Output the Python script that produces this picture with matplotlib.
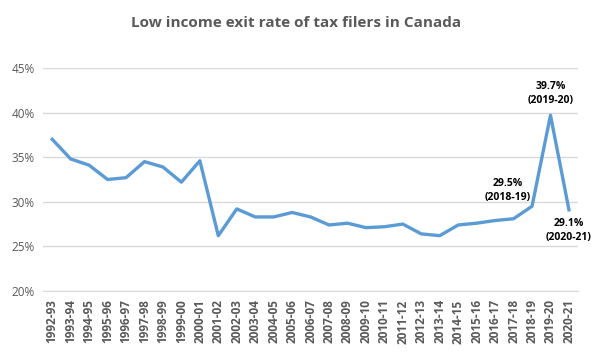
import matplotlib
matplotlib.use("Agg")
import matplotlib.pyplot as plt
from matplotlib.ticker import FuncFormatter

years = ["1992-93","1993-94","1994-95","1995-96","1996-97","1997-98","1998-99","1999-00",
         "2000-01","2001-02","2002-03","2003-04","2004-05","2005-06","2006-07","2007-08",
         "2008-09","2009-10","2010-11","2011-12","2012-13","2013-14","2014-15","2015-16",
         "2016-17","2017-18","2018-19","2019-20","2020-21"]
rates = [37.0, 34.8, 34.1, 32.5, 32.7, 34.5, 33.9, 32.2,
         34.6, 26.2, 29.2, 28.3, 28.3, 28.8, 28.3, 27.4,
         27.6, 27.1, 27.2, 27.5, 26.4, 26.2, 27.4, 27.6,
         27.9, 28.1, 29.5, 39.7, 29.1]
yticks = [20, 25, 30, 35, 40, 45]
labels = {26: ("29.5%\n(2018-19)", (-24, 16)),
          27: ("39.7%\n(2019-20)", (0, 22)),
          28: ("29.1%\n(2020-21)", (0, -21))}

plt.rcParams['font.family'] = ['Open Sans', 'DejaVu Sans']
fig = plt.figure(figsize=(5.93, 3.54), dpi=100)
ax = fig.add_axes([0.0725, 0.178, 0.9025, 0.630])
x = list(range(len(years)))
ax.plot(x, rates, color="#5B9BD5", linewidth=2.4, solid_joinstyle='round', zorder=3)
ax.set_xlim(-0.5, len(years) - 0.5)
ax.set_ylim(20, 45)
ax.set_yticks(yticks)
ax.yaxis.set_major_formatter(FuncFormatter(lambda v, p: f"{v:.0f}%"))
ax.grid(axis='y', color="#D9D9D9", linewidth=1)
ax.set_axisbelow(True)
for s in ax.spines.values():
    s.set_visible(False)
ax.spines['bottom'].set_visible(True)
ax.spines['bottom'].set_color("#D9D9D9")
ax.tick_params(axis='both', length=0, colors="#595959")
ax.tick_params(axis='y', labelsize=8.5, pad=6)
ax.tick_params(axis='x', pad=6)
ax.set_xticks(x)
ax.set_xticklabels(years, rotation=90, fontsize=8.5, fontweight='bold', color="#595959",
                   family=['Liberation Sans Narrow', 'Open Sans', 'DejaVu Sans'])
for i, (txt, off) in labels.items():
    ax.annotate(txt, (i, rates[i]), xytext=off, textcoords='offset pixels',
                ha='center', va='center', fontsize=7.5, fontweight='bold', color="black",
                linespacing=1.35)
fig.text(0.5, 0.935, "Low income exit rate of tax filers in Canada", ha='center', va='center',
         fontsize=11, fontweight='bold', color="#595959")
fig.savefig("out.png", dpi=100, facecolor="white")
